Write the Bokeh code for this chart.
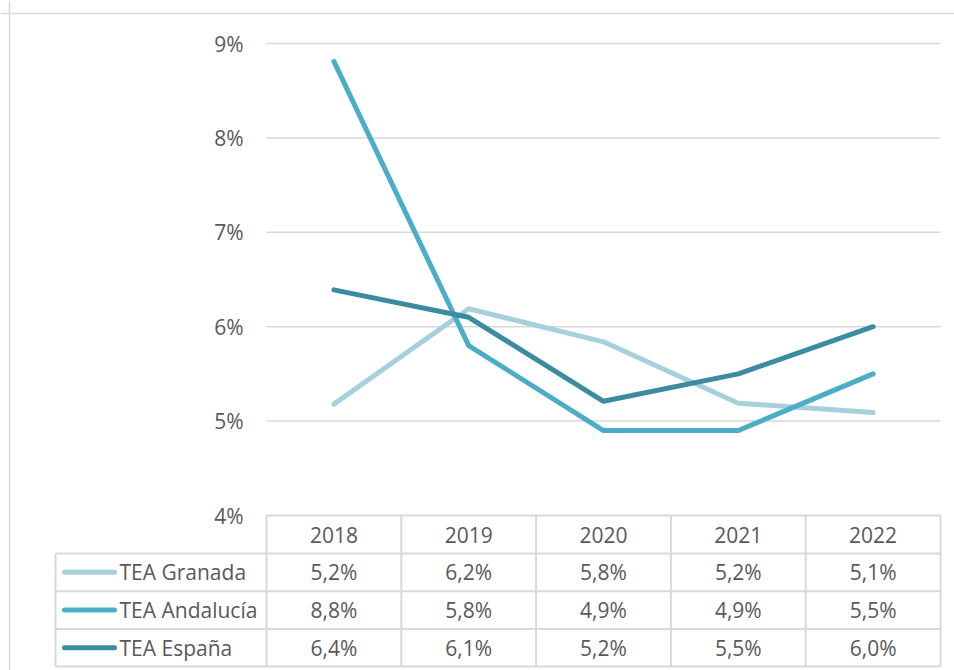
from bokeh.plotting import figure
from bokeh.models import Range1d, Span
from bokeh.core.properties import value
from bokeh.embed import file_html
from bokeh.resources import INLINE

years = ["2018", "2019", "2020", "2021", "2022"]
series_names = ["TEA Granada", "TEA Andalucía", "TEA España"]
granada = [5.18, 6.19, 5.84, 5.19, 5.09]
andalucia = [8.81, 5.80, 4.90, 4.90, 5.50]
espana = [6.39, 6.10, 5.21, 5.50, 6.00]
series_colors = ["#a7d0dc", "#4badc6", "#3b8ca1"]
y_ticks = [4, 5, 6, 7, 8, 9]

FONT = value("Open Sans")
TXT = "#595959"
GRID = "#d9d9d9"
FS = "21px"

W, H = 954, 670
# pixel layout
px_left, px_right = 266, 940      # category cells span
py_top, py_bot = 43, 515          # 9% .. 4%
n = len(years)
sx = (px_right - px_left) / n
sy = (py_bot - py_top) / (y_ticks[-1] - y_ticks[0])
x0 = -px_left / sx
x1 = (W - px_left) / sx
ytop = y_ticks[-1] + py_top / sy
ybot = y_ticks[0] - (H - py_bot) / sy

p = figure(width=W, height=H, output_backend="svg", toolbar_location=None,
           x_range=Range1d(x0, x1), y_range=Range1d(ybot, ytop),
           min_border=0, outline_line_color=None)
p.axis.visible = False
p.grid.visible = False
p.background_fill_color = "white"
p.border_fill_color = "white"

# outer chart border (left & top)
p.add_layout(Span(location=x0 + 9 / sx, dimension="height", line_color=GRID, line_width=1.5))
p.add_layout(Span(location=ytop - 13 / sy, dimension="width", line_color=GRID, line_width=1.5))

# gridlines
gy = [t for t in y_ticks if t > y_ticks[0]]
p.segment(x0=[0] * len(gy), x1=[n] * len(gy), y0=gy, y1=gy, line_color=GRID, line_width=1.5)

# y tick labels
p.text(x=[-23 / sx] * len(y_ticks), y=y_ticks, text=[f"{t}%" for t in y_ticks],
       text_font=FONT, text_font_size=FS, text_color=TXT,
       text_align="right", text_baseline="middle")

# lines
xs = [i + 0.5 for i in range(n)]
all_series = [granada, andalucia, espana]
for vals, col in zip(all_series, series_colors):
    p.line(xs, vals, line_color=col, line_width=5, line_cap="round", line_join="round")

# data table
row_h = 37.7 / sy
label_left = (55 - 266) / sx
y_header_bot = y_ticks[0] - 38 / sy
row_tops = [y_header_bot - k * row_h for k in range(len(series_names))]
row_bots = [t - row_h for t in row_tops]

# horizontal borders
hx0 = [0] + [label_left] * (len(series_names) + 1)
hy = [y_ticks[0], y_header_bot] + row_bots
hx1 = [n] * len(hy)
p.segment(x0=hx0, x1=hx1, y0=hy, y1=hy, line_color=GRID, line_width=2)
# vertical borders
vx = list(range(n + 1)) + [label_left]
vy0 = [row_bots[-1]] * (n + 1) + [row_bots[-1]]
vy1 = [y_ticks[0]] * (n + 1) + [y_header_bot]
p.segment(x0=vx, x1=vx, y0=vy0, y1=vy1, line_color=GRID, line_width=2)

# header
hc = y_ticks[0] - 19 / sy
p.text(x=xs, y=[hc] * n, text=years, text_font=FONT, text_font_size=FS,
       text_color=TXT, text_align="center", text_baseline="middle")

# rows
for k, (name, vals, col) in enumerate(zip(series_names, all_series, series_colors)):
    yc = (row_tops[k] + row_bots[k]) / 2
    p.segment(x0=[(64 - 266) / sx], x1=[(114 - 266) / sx], y0=[yc], y1=[yc],
              line_color=col, line_width=5, line_cap="round")
    p.text(x=[(119 - 266) / sx], y=[yc], text=[name], text_font=FONT, text_font_size=FS,
           text_color=TXT, text_align="left", text_baseline="middle")
    labels = [f"{v:.1f}%".replace(".", ",") for v in vals]
    p.text(x=xs, y=[yc] * n, text=labels, text_font=FONT, text_font_size=FS,
           text_color=TXT, text_align="center", text_baseline="middle")

open("out.html", "w").write(file_html(p, INLINE))
